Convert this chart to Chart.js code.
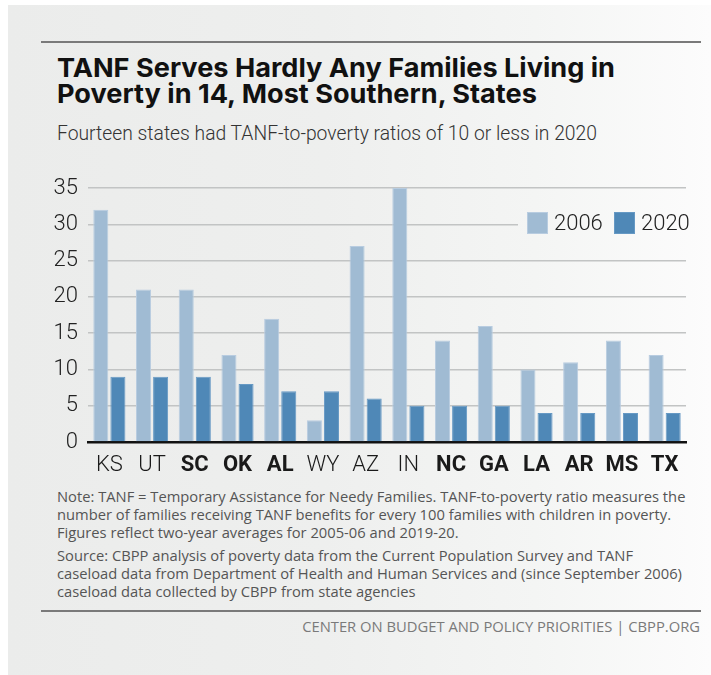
<!DOCTYPE html>
<html>
<head>
<meta charset="utf-8">
<script src="https://cdn.jsdelivr.net/npm/chart.js@4/dist/chart.umd.min.js"></script>
<style>
  html, body { margin: 0; padding: 0; width: 711px; height: 675px; background: #ffffff; overflow: hidden; }
  #panel { position: absolute; left: 8px; top: 5px; width: 703px; height: 670px;
    background: linear-gradient(to right, #ebeceb 0%, #eeefee 45%, #f4f5f4 75%, #fcfcfc 100%); }
  .rule { position: absolute; left: 41px; width: 660px; height: 2px; background: #7a7a7a; }
  .txt { position: absolute; white-space: nowrap; transform-origin: 0 0; }
  #title { left: 57px; top: 55px; font-family: "Inter", "Open Sans", sans-serif; font-weight: 700; font-size: 26px; line-height: 26px; color: #111; }
  #subtitle { left: 57px; top: 121px; font-family: "Roboto", sans-serif; font-weight: 300; font-size: 20px; color: #333; }
  .note { left: 57px; font-family: "Open Sans", "Lato", sans-serif; font-size: 14px; color: #555; }
  #footer { font-family: "Open Sans", "Lato", sans-serif; font-size: 13px; color: #7a7a7a; }
  canvas { position: absolute; left: 0; top: 0; }
</style>
</head>
<body>
<div id="panel"></div>
<div class="rule" style="top:41px"></div>
<div class="rule" style="top:610px"></div>
<div class="txt" id="title"><span id="t1">TANF Serves Hardly Any Families Living in</span><br><span id="t2">Poverty in 14, Most Southern, States</span></div>
<div class="txt" id="subtitle">Fourteen states had TANF-to-poverty ratios of 10 or less in 2020</div>
<div class="txt note" id="n1" style="top:486px">Note: TANF = Temporary Assistance for Needy Families. TANF-to-poverty ratio measures the</div>
<div class="txt note" id="n2" style="top:504px">number of families receiving TANF benefits for every 100 families with children in poverty.</div>
<div class="txt note" id="n3" style="top:522px">Figures reflect two-year averages for 2005-06 and 2019-20.</div>
<div class="txt note" id="s1" style="top:545px">Source: CBPP analysis of poverty data from the Current Population Survey and TANF</div>
<div class="txt note" id="s2" style="top:563px">caseload data from Department of Health and Human Services and (since September 2006)</div>
<div class="txt note" id="s3" style="top:581px">caseload data collected by CBPP from state agencies</div>
<div class="txt" id="footer" style="top:616px">CENTER ON BUDGET AND POLICY PRIORITIES | CBPP.ORG</div>
<canvas id="c" width="711" height="675"></canvas>
<script>
// ---- data ----
const states = ["KS", "UT", "SC", "OK", "AL", "WY", "AZ", "IN", "NC", "GA", "LA", "AR", "MS", "TX"];
const southern = [false, false, true, true, true, false, false, false, true, true, true, true, true, true];
const ratio2006 = [32, 21, 21, 12, 17, 3, 27, 35, 14, 16, 10, 11, 14, 12];
const ratio2020 = [9, 9, 9, 8, 7, 7, 6, 5, 5, 5, 4, 4, 4, 4];
const yTicks = [0, 5, 10, 15, 20, 25, 30, 35];
const seriesLabels = ["2006", "2020"];

// ---- fit text widths ----
function fitScale(id, target) {
  const el = document.getElementById(id);
  const w = el.getBoundingClientRect().width;
  el.style.transform = "scaleX(" + (target / w) + ")";
}
function fitFont(ids, leadId, target) {
  const lead = document.getElementById(leadId);
  const w = lead.getBoundingClientRect().width;
  const fs = parseFloat(getComputedStyle(lead).fontSize) * target / w;
  ids.forEach(id => document.getElementById(id).style.fontSize = fs + "px");
}
fitFont(["n1","n2","n3","s1","s2","s3"], "n1", 629);
const tw = document.getElementById("t1").getBoundingClientRect().width;
document.getElementById("title").style.transform = "scaleX(" + (558 / tw) + ")";
fitScale("subtitle", 540);
fitFont(["footer"], "footer", 398);
const f = document.getElementById("footer");
f.style.left = (700 - f.getBoundingClientRect().width) + "px";

const tickFamily = '"Roboto", sans-serif';

const legendPlugin = {
  id: "customLegend",
  afterDraw(chart) {
    const ctx = chart.ctx;
    const a = chart.chartArea;
    const x0 = a.right - 168, y0 = a.top + 17;
    ctx.save();
    ctx.globalCompositeOperation = "destination-out";
    ctx.fillRect(x0, y0, 170, 38);
    ctx.restore();
    ctx.save();
    ctx.font = "300 22px " + tickFamily;
    ctx.textBaseline = "middle";
    const offsets = [9, 96];
    chart.data.datasets.forEach((ds, i) => {
      const bx = x0 + offsets[i];
      ctx.fillStyle = ds.backgroundColor;
      ctx.fillRect(bx, y0 + 7, 21, 22);
      ctx.strokeStyle = ds.borderColor;
      ctx.lineWidth = 1;
      ctx.strokeRect(bx + 0.5, y0 + 7.5, 20, 21);
      ctx.fillStyle = "#222";
      ctx.fillText(ds.label, bx + 27, y0 + 19);
    });
    ctx.restore();
  }
};

new Chart(document.getElementById("c"), {
  type: "bar",
  data: {
    labels: states,
    datasets: [
      { label: seriesLabels[0], data: ratio2006, backgroundColor: "#a0bbd3", borderColor: "#b8cce0", borderWidth: 1, categoryPercentage: 0.8, barPercentage: 0.88 },
      { label: seriesLabels[1], data: ratio2020, backgroundColor: "#4f88b7", borderColor: "#6699c4", borderWidth: 1, categoryPercentage: 0.8, barPercentage: 0.88 }
    ]
  },
  options: {
    responsive: false,
    animation: false,
    events: [],
    layout: { padding: { left: 38, right: 25, top: 188, bottom: 193 } },
    plugins: { legend: { display: false }, tooltip: { enabled: false } },
    scales: {
      y: {
        min: 0, max: 35,
        afterFit(s) { s.width = 50; },
        afterBuildTicks(s) { s.ticks = yTicks.map(v => ({ value: v })); },
        ticks: { font: { family: tickFamily, size: 22, weight: 300 }, color: "#222", padding: 10 },
        grid: { color: "#c2c4c4", lineWidth: 1.5, drawTicks: false },
        border: { display: false }
      },
      x: {
        afterFit(s) { s.height = 40; },
        grid: { display: false, drawTicks: false },
        border: { color: "#111", width: 2.5 },
        ticks: {
          color: "#1a1a1a",
          padding: 10,
          font: (ctx) => ({ family: tickFamily, size: 22, weight: southern[ctx.index] ? 700 : 300 })
        }
      }
    }
  },
  plugins: [legendPlugin]
});
</script>
</body>
</html>
